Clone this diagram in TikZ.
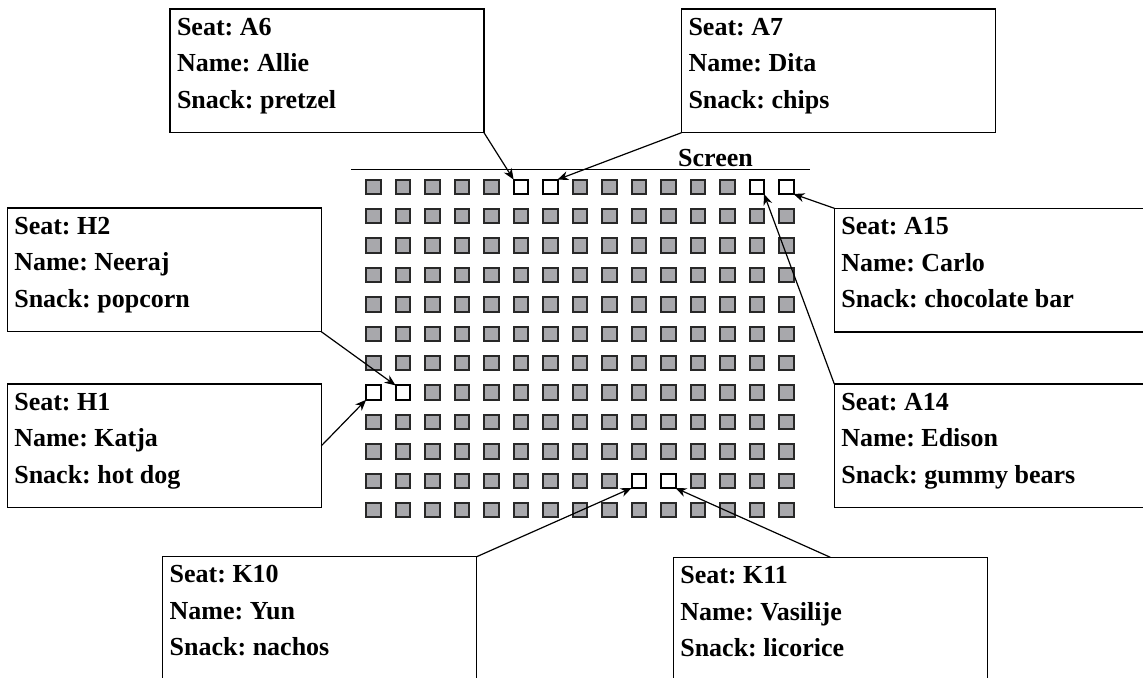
\documentclass[tikz,border=0pt]{standalone}
\usepackage{fontspec}
\setmainfont{Liberation Serif}
\frenchspacing
\usetikzlibrary{arrows.meta}
\definecolor{seatfill}{RGB}{168,168,172}
\definecolor{seatline}{RGB}{40,40,40}
\tikzset{
  seat/.style={draw=seatline, line width=1pt, fill=seatfill, minimum size=7.2pt, inner sep=0pt, outer sep=0pt},
  freeseat/.style={seat, fill=white, draw=black},
  infobox/.style={draw, line width=0.65pt, anchor=north west, inner xsep=3.5pt, inner ysep=4.5pt, outer sep=0pt,
    font=\bfseries\fontsize{13}{18.25}\selectfont, align=left},
  pointer/.style={-{Stealth[length=5.5pt,width=4.5pt]}, line width=0.6pt},
  screenlabel/.style={font=\bfseries\fontsize{13}{14}\selectfont, anchor=base, inner sep=0pt},
}
\newcommand{\infotext}[3]{\parbox[c][52.85pt][t]{150pt}{Seat: #1\\Name: #2\\Snack: #3}}
\begin{document}
\begin{tikzpicture}[x=0.5pt,y=-0.5pt]
\path[use as bounding box, clip] (0,0) rectangle (1143,678);
% screen
\coordinate (scrL) at (351,169.5);
\coordinate (scrR) at (810,169.5);
\draw[line width=0.6pt] (scrL) -- (scrR);
\node[screenlabel] (screen) at (715.5,166.5) {Screen};
% seats
\foreach \r in {0,...,11} {
  \foreach \c in {1,...,15} {
    \pgfmathtruncatemacro\free{((\r==0 && (\c==6 || \c==7 || \c==14 || \c==15)) || (\r==7 && \c<3) || (\r==10 && (\c==10 || \c==11))) ? 1 : 0}
    \ifnum\free=1 \def\st{freeseat}\else\def\st{seat}\fi
    \node[\st] (s-\r-\c) at ({373.3+29.5*(\c-1)}, {186.8+29.4*\r}) {};
  }
}
% boxes
\node[infobox] (bA6)  at (170,9)      {\infotext{A6}{Allie}{pretzel}};
\node[infobox] (bA7)  at (681.5,9)    {\infotext{A7}{Dita}{chips}};
\node[infobox] (bH2)  at (7.3,208)    {\infotext{H2}{Neeraj}{popcorn}};
\node[infobox] (bH1)  at (7.3,384)    {\infotext{H1}{Katja}{hot dog}};
\node[infobox] (bA15) at (834.3,208.3){\infotext{A15}{Carlo}{chocolate bar}};
\node[infobox] (bA14) at (834.3,384)  {\infotext{A14}{Edison}{gummy bears}};
\node[infobox] (bK10) at (162.7,556.7){\infotext{K10}{Yun}{nachos}};
\node[infobox] (bK11) at (673.3,557.3){\infotext{K11}{Vasilije}{licorice}};
% pointers
\draw[pointer] (bA6.south east) -- (s-0-6.north west);
\draw[pointer] (bA7.south west) -- (s-0-7.north east);
\draw[pointer] (bH2.south east) -- (s-7-2.north west);
\draw[pointer] (bH1.east) -- (s-7-1.south west);
\draw[pointer] (bA15.north west) -- (s-0-15.south east);
\draw[pointer] (bA14.north west) -- (s-0-14.south east);
\draw[pointer] (bK10.north east) -- (s-10-10.south west);
\draw[pointer] (bK11.north) -- (s-10-11.south east);
\end{tikzpicture}
\end{document}
